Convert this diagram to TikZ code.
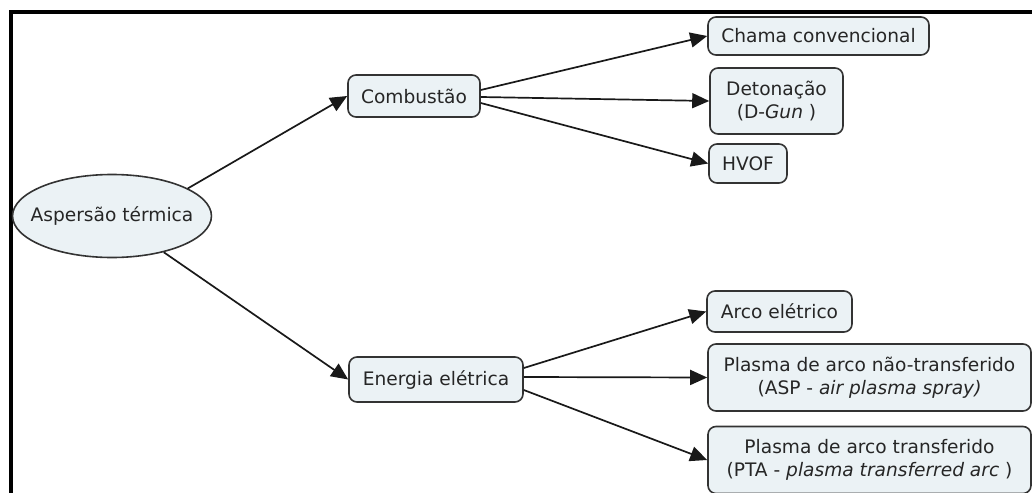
\documentclass[tikz,border=0pt]{standalone}
\usepackage{fontspec}
\setmainfont{DejaVu Sans}
\usetikzlibrary{arrows.meta,shapes.geometric}
\definecolor{boxfill}{HTML}{EBF2F5}
\definecolor{boxline}{HTML}{333333}
\tikzset{
  concept/.style={draw=boxline, line width=0.8pt, fill=boxfill, rounded corners=4pt,
    inner xsep=6pt, inner ysep=2pt, align=center, text=black!85},
  root/.style={draw=boxline, line width=0.8pt, fill=boxfill, ellipse, inner xsep=-5.5pt,
    inner ysep=0pt, minimum width=99pt, minimum height=41.5pt, text=black!85},
  link/.style={->, line width=0.85pt, draw=black!90}
}
\begin{document}
\begin{tikzpicture}[x=0.5pt, y=-0.5pt, >={Triangle[length=8.5pt,width=7.5pt]},
  font=\fontsize{9.3}{11.6}\selectfont]

\useasboundingbox (0,0) rectangle (1032,492);
\draw [line width=2pt] (10.5,494) -- (10.5,12) -- (1034,12);

\node [root] (asp) at (112,216) {Aspersão térmica};

\node [concept, minimum width=66pt, minimum height=21pt] (comb) at (414,96) {Combustão};
\node [concept, minimum width=87pt, minimum height=22.5pt] (ener) at (436,379.5) {Energia elétrica};

\node [concept, minimum width=110.5pt, minimum height=19pt] (chama) at (818.5,36) {Chama convencional};
\node [concept, minimum width=66.5pt, minimum height=33pt] (deto) at (776.5,101) {Detonação\\(D-\textit{Gun} )};
\node [concept, minimum width=39pt, minimum height=19.5pt] (hvof) at (748,163.5) {HVOF};

\node [concept, minimum width=72.5pt, minimum height=20.5pt] (arco) at (779.5,311.5) {Arco elétrico};
\node [concept, minimum width=161.5pt, minimum height=33.5pt] (ntrans) at (869.5,377.5) {Plasma de arco não-transferido\\(ASP - \textit{air plasma spray)}};
\node [concept, minimum width=161.5pt, minimum height=33.5pt] (trans) at (869.5,460) {Plasma de arco transferido\\(PTA - \textit{plasma transferred arc} )};

\draw [link] (asp.20) -- (comb.west);
\draw [link] (asp.-35) -- (ener.west);

\draw [link] ([yshift=3pt]comb.east) -- (chama.west);
\draw [link] ([yshift=-0.5pt]comb.east) -- (deto.west);
\draw [link] ([yshift=-3.5pt]comb.east) -- (hvof.west);

\draw [link] ([yshift=5.75pt]ener.east) -- (arco.west);
\draw [link] ([yshift=1.25pt]ener.east) -- (ntrans.west);
\draw [link] ([yshift=-5.25pt]ener.east) -- (trans.west);

\end{tikzpicture}
\end{document}
